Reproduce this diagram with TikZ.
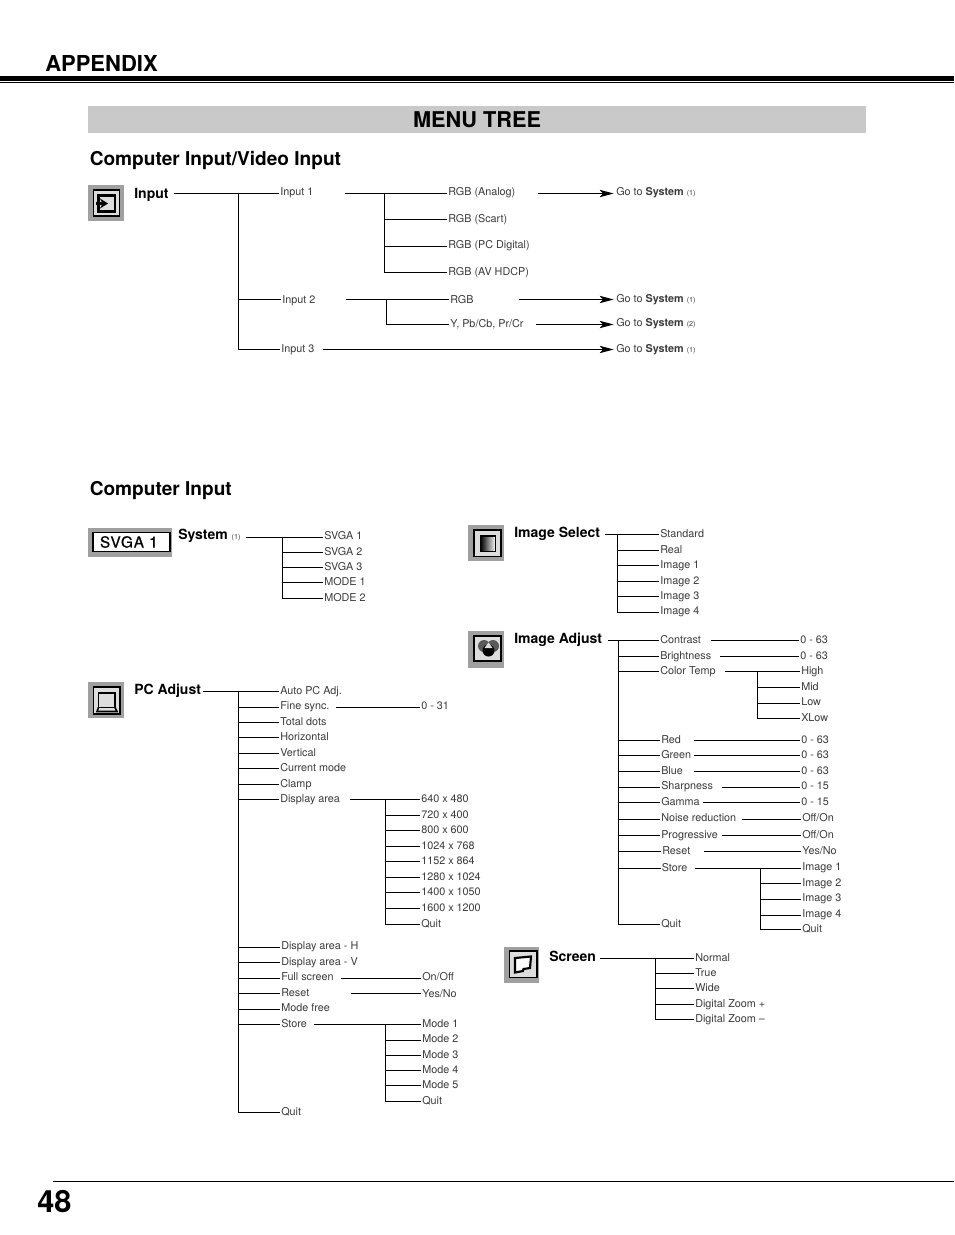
\documentclass[tikz,border=0pt]{standalone}
\usepackage{fontspec}
\setmainfont{TeX Gyre Heros}
\usetikzlibrary{arrows.meta}
\usepackage{xcolor}
\definecolor{ink}{HTML}{3A3A3A}
\definecolor{band}{HTML}{C9C9C9}
\definecolor{iconedge}{HTML}{A0A0A0}
\definecolor{iconface}{HTML}{DDDDDD}
\definecolor{lobe}{HTML}{5A5A5A}
\newcommand{\sysnote}[1]{{\fontsize{5.4}{6}\selectfont(#1)}}
\newcommand{\gosys}[1]{Go to \textbf{System} \sysnote{#1}}

\begin{document}
\begin{tikzpicture}[
  x=0.75pt,
  y=-0.75pt,
  wire/.style={line width=0.8pt},
  sendto/.style={wire, -{Stealth[length=10.5pt,width=5.5pt,inset=2.5pt]}, shorten >=1pt},
  lbl/.style={anchor=west, inner xsep=0.75pt, inner ysep=0pt, text height=6pt, text depth=1.5pt,
    font=\fontsize{8.1}{10}\selectfont, text=ink},
  lblhi/.style={lbl, text depth=3pt},
  lbllo/.style={lbl, text depth=0pt},
  ttl/.style={anchor=west, inner sep=0pt, text height=8pt, text depth=3.3pt,
    font=\fontsize{10.5}{12}\selectfont\bfseries},
  heading/.style={anchor=west, inner sep=0pt, font=\fontsize{14.3}{16}\selectfont\bfseries},
  iconbg/.style={fill=iconedge, draw=none},
  iconin/.style={fill=iconface, draw=black, line width=0.8pt}
]
\useasboundingbox (0,0) rectangle (954,1235);

% page furniture
\fill[black] (0,76) rectangle (954,80.5);
\fill[black] (0,81.8) rectangle (954,83);
\fill[black] (53,1181) rectangle (954,1182);
\node[heading, font=\fontsize{16.5}{18}\selectfont\bfseries] (appendix) at (45,63.5) {APPENDIX};
\node[fill=band, minimum width=583.5pt, minimum height=20.25pt, inner sep=0pt,
  font=\fontsize{16.3}{18}\selectfont\bfseries] (menutree) at (477,119.5) {MENU TREE};
\node[heading] (headboth) at (89.5,160.5) {Computer Input/Video Input};
\node[heading] (headcomp) at (89.5,490.5) {Computer Input};
\node[anchor=west, inner sep=0pt, font=\fontsize{23}{26}\selectfont\bfseries] (pagenum) at (37,1202) {48};

% icons
\fill[iconbg] (88,185) rectangle (124,221);
\filldraw[iconin] (93.5,190) rectangle (119.5,216);
\draw[line width=1.8pt] (98.5,195.5) rectangle (115,211.5);
\draw[line width=1.8pt, -{Stealth[length=6pt,width=7.5pt]}] (95.5,203.5) -- (108,203.5);

\fill[iconbg] (88,527.5) rectangle (172,556.5);
\node[draw=black, fill=white, line width=1.1pt, minimum width=58pt, minimum height=14.5pt, inner sep=0pt,
  font=\fontsize{11.5}{13}\selectfont\addfontfeatures{LetterSpace=6,FakeBold=0.6}] (svgabadge) at (131.5,542) {\hspace{-4pt}SVGA 1};

\fill[iconbg] (88,682) rectangle (124,718);
\filldraw[iconin] (93.5,687) rectangle (120,714);
\draw[line width=1.2pt] (98.5,693) rectangle (115,707.5);
\draw[line width=1.2pt] (98.5,707.5) -- (97,711.5) -- (117,711.5) -- (115,707.5);

\fill[iconbg] (468,525) rectangle (504,561);
\filldraw[iconin] (474,530) rectangle (501,556.5);
\shade[left color=black, right color=white] (480.5,536) rectangle (495.5,551.5);
\draw[line width=1.4pt] (480.5,536) rectangle (495.5,551.5);

\fill[iconbg] (468,631) rectangle (504,667.5);
\filldraw[iconin] (474,636) rectangle (501,661);
\fill[lobe] (484,646) circle (6);
\fill[lobe] (493,646) circle (6);
\fill[black] (488.5,650.5) circle (6);
\fill[iconface] (484.5,648) -- (488.5,642.5) -- (492.5,648) -- cycle;

\fill[iconbg] (503.5,947) rectangle (539,982.5);
\filldraw[iconin] (509.5,951) rectangle (537,977.5);
\filldraw[fill=white, draw=black, line width=1.6pt] (515,958) -- (531,956.5) -- (530,968) -- (523.5,969) -- (523,971) -- (515,972.5) -- cycle;

% input tree
\node[ttl, text depth=0.4pt, text height=7.5pt] (input) at (134,193.5) {Input};
\node[lblhi] (inputa) at (279,193.5) {Input 1};
\node[lbllo] (inputb) at (281,299.5) {Input 2};
\node[lbl] (inputc) at (280,349.5) {Input 3};
\node[lblhi] (rgbanalog) at (447,193.5) {RGB (Analog)};
\node[lbl] (rgbscart) at (447,219.5) {RGB (Scart)};
\node[lblhi] (rgbdigital) at (447,246.5) {RGB (PC Digital)};
\node[lbl] (rgbhdcp) at (447,272.5) {RGB (AV HDCP)};
\node[lbllo] (rgbplain) at (449,299.5) {RGB};
\node[lbl] (ypbpr) at (449,324.5) {Y, Pb/Cb, Pr/Cr};
\node[lblhi] (gotoa) at (615,193.5) {\gosys{1}};
\node[lbl] (gotob) at (615,299.5) {\gosys{1}};
\node[lblhi] (gotoc) at (615,324.5) {\gosys{2}};
\node[lbl] (gotod) at (615,349.5) {\gosys{1}};

\coordinate (inputout) at (174,193.5);
\coordinate (inputrun) at (238.5,193.5);
\coordinate (inputaout) at (345,193.5);
\coordinate (inputarun) at (384.5,193.5);
\coordinate (inputbout) at (346,299.5);
\coordinate (inputbrun) at (386.5,299.5);
\coordinate (inputcout) at (323,349.5);
\coordinate (rgbanalogout) at (538,193.5);
\coordinate (rgbplainout) at (519,299.5);
\coordinate (ypbprout) at (536,324.5);

\draw[wire] (inputout) -- (inputa);
\draw[wire] (inputrun) |- (inputb);
\draw[wire] (inputrun) |- (inputc);
\draw[wire] (inputaout) -- (rgbanalog);
\draw[wire] (inputarun) |- (rgbscart);
\draw[wire] (inputarun) |- (rgbdigital);
\draw[wire] (inputarun) |- (rgbhdcp);
\draw[wire] (inputbout) -- (rgbplain);
\draw[wire] (inputbrun) |- (ypbpr);
\draw[sendto] (rgbanalogout) -- (gotoa);
\draw[sendto] (rgbplainout) -- (gotob);
\draw[sendto] (ypbprout) -- (gotoc);
\draw[sendto] (inputcout) -- (gotod);

% system tree
\node[ttl, text depth=4.4pt] (system) at (178,537.5) {System \textmd{\textcolor{ink}{\sysnote{1}}}};
\node[lblhi] (svgaa) at (323,537.5) {SVGA 1};
\node[lbl] (svgab) at (323,552.5) {SVGA 2};
\node[lbl] (svgac) at (323,567.5) {SVGA 3};
\node[lbl] (modea) at (323,582.5) {MODE 1};
\node[lbl] (modeb) at (323,598.5) {MODE 2};

\coordinate (systemout) at (246,537.5);
\coordinate (systemrun) at (282.5,537.5);

\draw[wire] (systemout) -- (svgaa);
\draw[wire] (systemrun) |- (svgab);
\draw[wire] (systemrun) |- (svgac);
\draw[wire] (systemrun) |- (modea);
\draw[wire] (systemrun) |- (modeb);

% pc adjust tree
\node[ttl] (pcadjust) at (134,691.5) {PC Adjust};
\node[lbl] (autopc) at (279,691.5) {Auto PC Adj.};
\node[lblhi] (finesync) at (279,707.5) {Fine sync.};
\node[lbl] (totaldots) at (279,722.5) {Total dots};
\node[lbl] (horizontal) at (279,737.5) {Horizontal};
\node[lbl] (vertical) at (279,753.5) {Vertical};
\node[lbl] (currentmode) at (279,768.5) {Current mode};
\node[lbl] (clamp) at (279,784.5) {Clamp};
\node[lbl] (displayarea) at (279,799.5) {Display area};
\node[lblhi] (displayh) at (280,947.5) {Display area - H};
\node[lbl] (displayv) at (280,962.5) {Display area - V};
\node[lblhi] (fullscreen) at (280,978.5) {Full screen};
\node[lbl] (pcreset) at (280,993.5) {Reset};
\node[lblhi] (modefree) at (280,1009.5) {Mode free};
\node[lbl] (pcstore) at (280,1024.5) {Store};
\node[lbl] (pcquit) at (280,1112.5) {Quit};

\node[lblhi] (finerange) at (420,707.5) {0 - 31};
\node[lbl] (aream) at (420,799.5) {640 x 480};
\node[lbl] (arean) at (420,815.5) {720 x 400};
\node[lbl] (areao) at (420,830.5) {800 x 600};
\node[lbl] (areap) at (420,846.5) {1024 x 768};
\node[lbl] (areaq) at (420,861.5) {1152 x 864};
\node[lbl] (arear) at (420,877.5) {1280 x 1024};
\node[lbl] (areas) at (420,892.5) {1400 x 1050};
\node[lbl] (areat) at (420,908.5) {1600 x 1200};
\node[lbl] (areaquit) at (420,924.5) {Quit};
\node[lblhi] (onoff) at (421,978.5) {On/Off};
\node[lbllo] (yesno) at (421,993.5) {Yes/No};
\node[lbl] (storea) at (421,1024.5) {Mode 1};
\node[lblhi] (storeb) at (421,1040.5) {Mode 2};
\node[lbl] (storec) at (421,1055.5) {Mode 3};
\node[lbl] (stored) at (421,1070.5) {Mode 4};
\node[lbl] (storee) at (421,1085.5) {Mode 5};
\node[lbl] (storequit) at (421,1101.5) {Quit};

\coordinate (pcout) at (202.5,691.5);
\coordinate (pcrun) at (238.5,691.5);
\coordinate (finesyncout) at (336,707.5);
\coordinate (displayout) at (350,799.5);
\coordinate (displayrun) at (385.5,799.5);
\coordinate (fullout) at (341,978.5);
\coordinate (resetout) at (351,993.5);
\coordinate (storeout) at (314,1024.5);
\coordinate (storerun) at (385.5,1024.5);

\draw[wire] (pcout) -- (autopc);
\draw[wire] (pcrun) |- (finesync);
\draw[wire] (pcrun) |- (totaldots);
\draw[wire] (pcrun) |- (horizontal);
\draw[wire] (pcrun) |- (vertical);
\draw[wire] (pcrun) |- (currentmode);
\draw[wire] (pcrun) |- (clamp);
\draw[wire] (pcrun) |- (displayarea);
\draw[wire] (pcrun) |- (displayh);
\draw[wire] (pcrun) |- (displayv);
\draw[wire] (pcrun) |- (fullscreen);
\draw[wire] (pcrun) |- (pcreset);
\draw[wire] (pcrun) |- (modefree);
\draw[wire] (pcrun) |- (pcstore);
\draw[wire] (pcrun) |- (pcquit);
\draw[wire] (finesyncout) -- (finerange);
\draw[wire] (displayout) -- (aream);
\draw[wire] (displayrun) |- (arean);
\draw[wire] (displayrun) |- (areao);
\draw[wire] (displayrun) |- (areap);
\draw[wire] (displayrun) |- (areaq);
\draw[wire] (displayrun) |- (arear);
\draw[wire] (displayrun) |- (areas);
\draw[wire] (displayrun) |- (areat);
\draw[wire] (displayrun) |- (areaquit);
\draw[wire] (fullout) -- (onoff);
\draw[wire] (resetout) -- (yesno);
\draw[wire] (storeout) -- (storea);
\draw[wire] (storerun) |- (storeb);
\draw[wire] (storerun) |- (storec);
\draw[wire] (storerun) |- (stored);
\draw[wire] (storerun) |- (storee);
\draw[wire] (storerun) |- (storequit);

% image select tree
\node[ttl] (imgselect) at (514,534.5) {Image Select};
\node[lbl] (standard) at (659,534.5) {Standard};
\node[lbl] (real) at (659,550.5) {Real};
\node[lbl] (imagea) at (659,565.5) {Image 1};
\node[lbl] (imageb) at (659,581.5) {Image 2};
\node[lbl] (imagec) at (659,596.5) {Image 3};
\node[lblhi] (imaged) at (659,612.5) {Image 4};

\coordinate (imgselectout) at (605,534.5);
\coordinate (imgselectrun) at (617.5,534.5);

\draw[wire] (imgselectout) -- (standard);
\draw[wire] (imgselectrun) |- (real);
\draw[wire] (imgselectrun) |- (imagea);
\draw[wire] (imgselectrun) |- (imageb);
\draw[wire] (imgselectrun) |- (imagec);
\draw[wire] (imgselectrun) |- (imaged);

% image adjust tree
\node[ttl] (imgadjust) at (514,640.5) {Image Adjust};
\node[lbl] (contrast) at (659,640.5) {Contrast};
\node[lbl] (brightness) at (659,656.5) {Brightness};
\node[lbl] (colortemp) at (659,671.5) {Color Temp};
\node[lbl] (red) at (660,740.5) {Red};
\node[lbl] (green) at (660,755.5) {Green};
\node[lbl] (blue) at (660,771.5) {Blue};
\node[lblhi] (sharpness) at (660,787.5) {Sharpness};
\node[lbl] (gamma) at (660,802.5) {Gamma};
\node[lblhi] (noise) at (660,819.5) {Noise reduction};
\node[lbl] (progressive) at (660,835.5) {Progressive};
\node[lbl] (adjreset) at (661,851.5) {Reset};
\node[lbl] (adjstore) at (660.5,868.5) {Store};
\node[lbl] (adjquit) at (660,924.5) {Quit};

\node[lbl] (contrastval) at (799,640.5) {0 - 63};
\node[lbl] (brightval) at (799,656.5) {0 - 63};
\node[lbl] (high) at (800,671.5) {High};
\node[lbl] (mid) at (800,687.5) {Mid};
\node[lblhi] (low) at (800,703.5) {Low};
\node[lbl] (xlow) at (800,718.5) {XLow};
\node[lbl] (redval) at (800,740.5) {0 - 63};
\node[lbl] (greenval) at (800,755.5) {0 - 63};
\node[lbl] (blueval) at (800,771.5) {0 - 63};
\node[lblhi] (sharpval) at (800,787.5) {0 - 15};
\node[lbl] (gammaval) at (800,802.5) {0 - 15};
\node[lblhi] (noiseval) at (801,819.5) {Off/On};
\node[lbl] (progval) at (801,835.5) {Off/On};
\node[lbl] (adjyesno) at (801,851.5) {Yes/No};
\node[lblhi] (storeimga) at (801,868.5) {Image 1};
\node[lbl] (storeimgb) at (801,883.5) {Image 2};
\node[lblhi] (storeimgc) at (801,899.5) {Image 3};
\node[lblhi] (storeimgd) at (801,915.5) {Image 4};
\node[lbl] (storeimgq) at (801,929.5) {Quit};

\coordinate (imgadjustout) at (608,640.5);
\coordinate (imgadjustrun) at (618.5,640.5);
\coordinate (contrastout) at (711,640.5);
\coordinate (brightout) at (720,656.5);
\coordinate (colorout) at (725,671.5);
\coordinate (colorrun) at (757.5,671.5);
\coordinate (redout) at (694,740.5);
\coordinate (greenout) at (694,755.5);
\coordinate (blueout) at (694,771.5);
\coordinate (sharpout) at (722,787.5);
\coordinate (gammaout) at (703,802.5);
\coordinate (noiseout) at (742,819.5);
\coordinate (progout) at (722,835.5);
\coordinate (adjresetout) at (704,851.5);
\coordinate (adjstoreout) at (695,868.5);
\coordinate (adjstorerun) at (760.5,868.5);

\draw[wire] (imgadjustout) -- (contrast);
\draw[wire] (imgadjustrun) |- (brightness);
\draw[wire] (imgadjustrun) |- (colortemp);
\draw[wire] (imgadjustrun) |- (red);
\draw[wire] (imgadjustrun) |- (green);
\draw[wire] (imgadjustrun) |- (blue);
\draw[wire] (imgadjustrun) |- (sharpness);
\draw[wire] (imgadjustrun) |- (gamma);
\draw[wire] (imgadjustrun) |- (noise);
\draw[wire] (imgadjustrun) |- (progressive);
\draw[wire] (imgadjustrun) |- (adjreset);
\draw[wire] (imgadjustrun) |- (adjstore);
\draw[wire] (imgadjustrun) |- (adjquit);
\draw[wire] (contrastout) -- (contrastval);
\draw[wire] (brightout) -- (brightval);
\draw[wire] (colorout) -- (high);
\draw[wire] (colorrun) |- (mid);
\draw[wire] (colorrun) |- (low);
\draw[wire] (colorrun) |- (xlow);
\draw[wire] (redout) -- (redval);
\draw[wire] (greenout) -- (greenval);
\draw[wire] (blueout) -- (blueval);
\draw[wire] (sharpout) -- (sharpval);
\draw[wire] (gammaout) -- (gammaval);
\draw[wire] (noiseout) -- (noiseval);
\draw[wire] (progout) -- (progval);
\draw[wire] (adjresetout) -- (adjyesno);
\draw[wire] (adjstoreout) -- (storeimga);
\draw[wire] (adjstorerun) |- (storeimgb);
\draw[wire] (adjstorerun) |- (storeimgc);
\draw[wire] (adjstorerun) |- (storeimgd);
\draw[wire] (adjstorerun) |- (storeimgq);

% screen tree
\node[ttl] (screen) at (549,958.5) {Screen};
\node[lbl] (normal) at (694,958.5) {Normal};
\node[lbl] (true) at (694,973.5) {True};
\node[lbl] (wide) at (694,988.5) {Wide};
\node[lbl] (zoomin) at (694,1004.5) {Digital Zoom +};
\node[lbl] (zoomout) at (694,1019.5) {Digital Zoom --};

\coordinate (screenout) at (600,958.5);
\coordinate (screenrun) at (655.5,958.5);

\draw[wire] (screenout) -- (normal);
\draw[wire] (screenrun) |- (true);
\draw[wire] (screenrun) |- (wide);
\draw[wire] (screenrun) |- (zoomin);
\draw[wire] (screenrun) |- (zoomout);
\end{tikzpicture}
\end{document}
